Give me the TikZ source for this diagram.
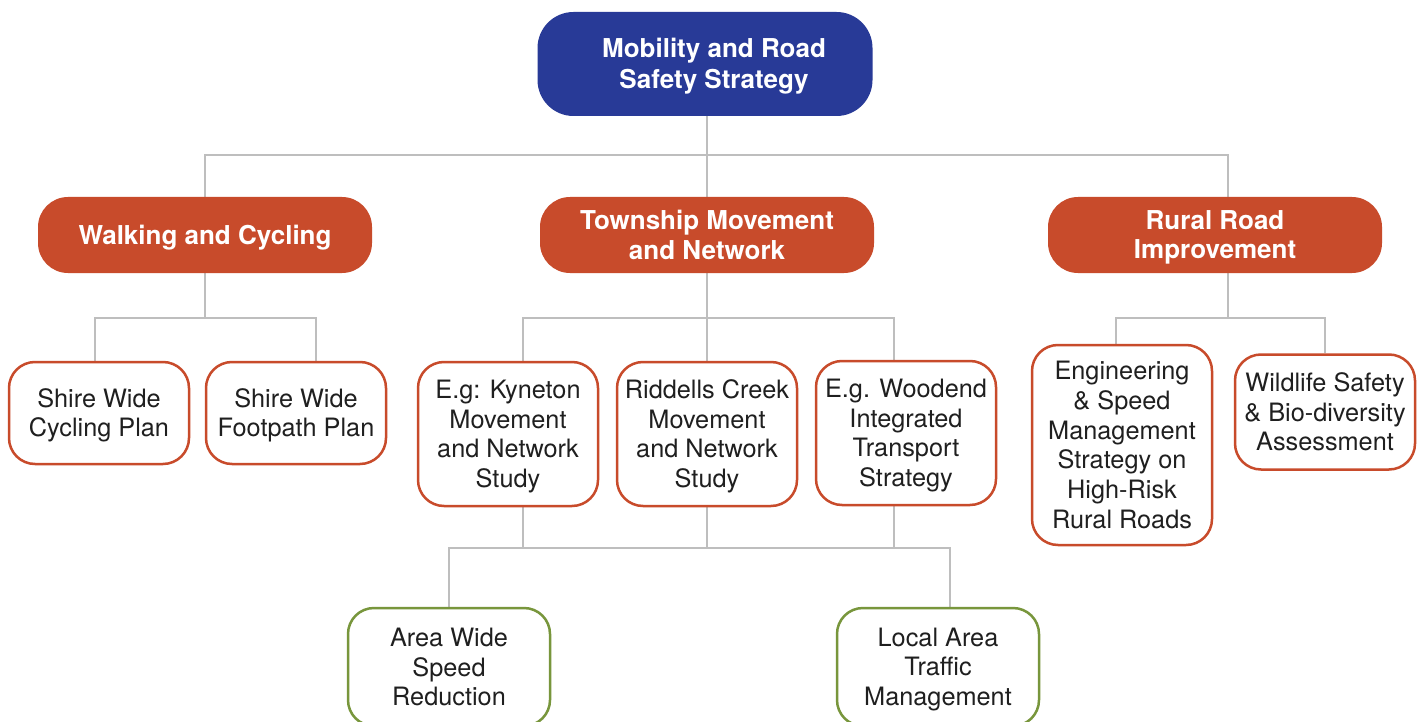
\documentclass[tikz,border=0pt]{standalone}
\usepackage{fontspec}
\setmainfont{TeX Gyre Heros}
\usetikzlibrary{calc,backgrounds}
\definecolor{topblue}{HTML}{283A97}
\definecolor{rust}{HTML}{C84B2B}
\definecolor{olive}{HTML}{78963C}
\definecolor{linkgrey}{HTML}{BEBEBE}
% even strut, so that every box centres its lines on the cap height
\newcommand\hs{\rule[-0.2em]{0pt}{1.12em}}
\tikzset{
	headbox/.style={fill=rust, text=white, rounded corners=30pt, align=center, inner sep=0pt,
		minimum width=334pt, minimum height=76pt, font=\fontsize{26}{29.5}\selectfont\bfseries},
	topbox/.style={headbox, fill=topblue, minimum width=335pt, minimum height=104pt, rounded corners=36pt},
	planbox/.style={draw=rust, line width=2.5pt, fill=white, text=black!88, rounded corners=26pt,
		align=center, inner sep=0pt, minimum width=180pt, font=\fontsize{25.3}{29.7}\selectfont},
	areabox/.style={planbox, draw=olive, minimum width=202pt},
	link/.style={draw=linkgrey, line width=1.3pt},
}

\begin{document}
\begin{tikzpicture}[x=1pt,y=-1pt]
		%%%%% START %%%%%
		\useasboundingbox (0,0) rectangle (1426,722);
		
		\node[topbox] (mrs) at (705,64) {\hs\hspace*{18pt}Mobility and Road\\\hspace*{18pt}Safety Strategy\hs};
		
		\node[headbox] (walk) at (205,235) {\hs Walking and Cycling\hs};
		\node[headbox] (town) at (707,235) {\hs Township Movement\\and Network\hs};
		\node[headbox] (rural) at (1215,235) {\hs Rural Road\\Improvement\hs};
		
		\node[planbox, minimum height=102pt] (cyc) at (99,413) {\hs Shire Wide\\Cycling Plan\hs};
		\node[planbox, minimum height=102pt] (foot) at (296,413) {\hs Shire Wide\\Footpath Plan\hs};
		
		\node[planbox, minimum height=144pt] (kyn) at (508,434) {\hs E.g: Kyneton\\Movement\\and Network\\Study\hs};
		\node[planbox, minimum height=144pt] (rid) at (707,434) {\hs Riddells Creek\\Movement\\and Network\\Study\hs};
		\node[planbox, minimum height=144pt] (wood) at (906,433) {\hs E.g. Woodend\\Integrated\\Transport\\Strategy\hs};
		
		\node[planbox, minimum height=200pt] (eng) at (1122,445) {\hs Engineering\\\& Speed\\Management\\Strategy on\\High-Risk\\Rural Roads\hs};
		\node[planbox, minimum height=115pt] (wild) at (1325,412) {\hs Wildlife Safety\\\& Bio-diversity\\Assessment\hs};
		
		\node[areabox, minimum height=118pt] (aws) at (449,667) {\hs Area Wide\\Speed\\Reduction\hs};
		\node[areabox, minimum height=118pt] (lat) at (938,667) {\hs Local Area\\Traffic\\Management\hs};
		
		\begin{scope}[on background layer]
			\fill[white] (0,0) rectangle (1426,722);
			
			% strategy -> three streams
			\coordinate (busM) at (707,155);
			\draw[link] ($(mrs.south)+(2,0)$) -- (town.north);
			\draw[link] (walk.north) |- (busM) -| ($(rural.north)+(13,0)$);
			
			% walking and cycling
			\coordinate (busW) at (205,318);
			\draw[link] (walk.south) -- (busW);
			\draw[link] ($(cyc.north)+(-4,0)$) |- (busW) -| ($(foot.north)+(20,0)$);
			
			% township studies
			\coordinate (busT) at (707,318);
			\coordinate (kynX) at ($(kyn.north)+(15,0)$);
			\coordinate (woodX) at ($(wood.north)+(-12,0)$);
			\draw[link] (town.south) -- (rid.north);
			\draw[link] (kynX) |- (busT) -| (woodX);
			
			% rural road
			\coordinate (busR) at (1228,318);
			\draw[link] ($(rural.south)+(13,0)$) -- (busR);
			\draw[link] ($(eng.north)+(-6,0)$) |- (busR) -| (wild.north);
			
			% studies -> local measures
			\coordinate (busL) at (707,548);
			\draw[link] (kynX |- kyn.south) -- (kynX |- busL);
			\draw[link] (woodX |- wood.south) -- (woodX |- busL);
			\draw[link] (rid.south) -- (busL);
			\draw[link] (aws.north) |- (busL) -| ($(lat.north)+(12,0)$);
		\end{scope}
		
		%%%%% END %%%%%
\end{tikzpicture}
\end{document}
